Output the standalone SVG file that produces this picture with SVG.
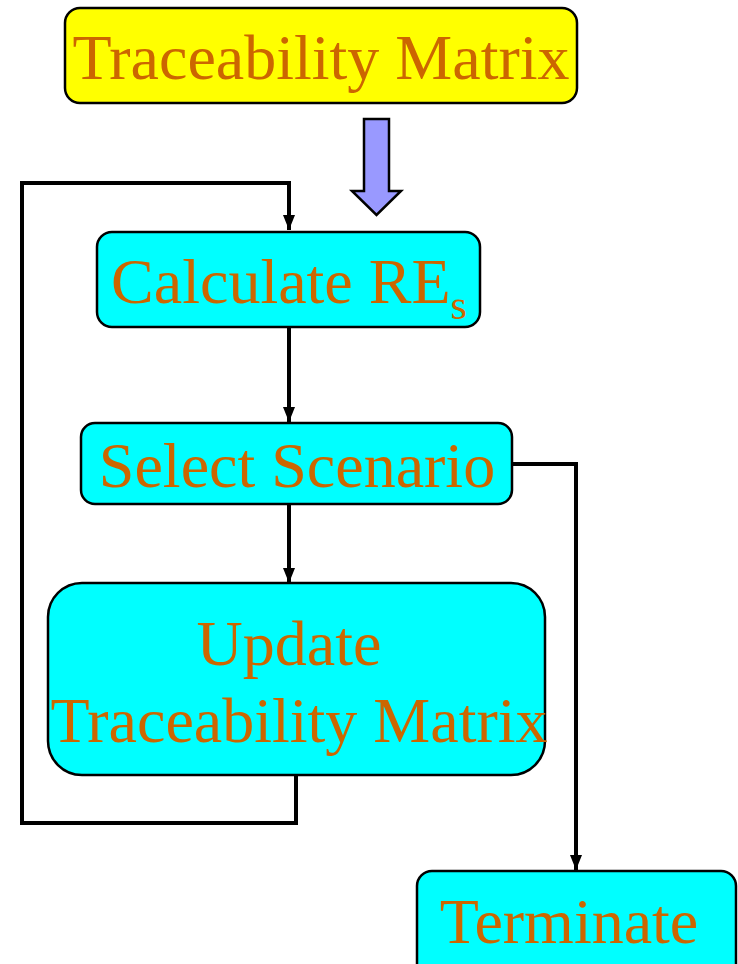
<svg xmlns="http://www.w3.org/2000/svg" width="738" height="964" viewBox="0 0 738 964">
<defs>
<style>
.box{stroke:#000;stroke-width:2.5}
.lbl{font-family:"Liberation Serif","Times New Roman",serif;font-size:64px;fill:#CC6600;text-anchor:middle}
.con{fill:none;stroke:#000;stroke-width:4;stroke-linejoin:miter}
</style>
<marker id="ad" markerUnits="userSpaceOnUse" markerWidth="15" markerHeight="12" refX="15" refY="6" orient="auto" viewBox="0 0 15 12">
<path d="M0,0 L15,6 L0,12 Z" fill="#000"/>
</marker>
</defs>
<g id="connectors">
<path class="con" d="M296,775 V823 H22 V183 H289 V230" marker-end="url(#ad)"/>
<path class="con" stroke-width="3.5" d="M289,327 V422" marker-end="url(#ad)"/>
<path class="con" stroke-width="3.5" d="M289,504 V583" marker-end="url(#ad)"/>
<path class="con" d="M512,464 H576 V870" marker-end="url(#ad)"/>
<path id="bigarrow" d="M364,119 H389 V191 H401 L376.5,215 L352,191 H364 Z" fill="#9999FF" stroke="#000" stroke-width="2.5"/>
</g>
<g id="n-trace">
<rect class="box" x="65" y="8" width="512" height="95" rx="15" fill="#FFFF00"/>
<text class="lbl" x="321" y="79">Traceability Matrix</text>
</g>
<g id="n-calc">
<rect class="box" x="97" y="232" width="383" height="95" rx="15" fill="#00FFFF"/>
<text class="lbl" x="289" y="303">Calculate RE<tspan font-size="42" dy="16">s</tspan></text>
</g>
<g id="n-select">
<rect class="box" x="81" y="423" width="431" height="81" rx="14" fill="#00FFFF"/>
<text class="lbl" x="297" y="487">Select Scenario</text>
</g>
<g id="n-update">
<rect class="box" x="48" y="583" width="497" height="192" rx="34" fill="#00FFFF"/>
<text class="lbl" x="289" y="665">Update</text>
<text class="lbl" x="299" y="742">Traceability Matrix</text>
</g>
<g id="n-term">
<rect class="box" x="417" y="871" width="319" height="110" rx="15" fill="#00FFFF"/>
<text class="lbl" x="569" y="943">Terminate</text>
</g>
</svg>
